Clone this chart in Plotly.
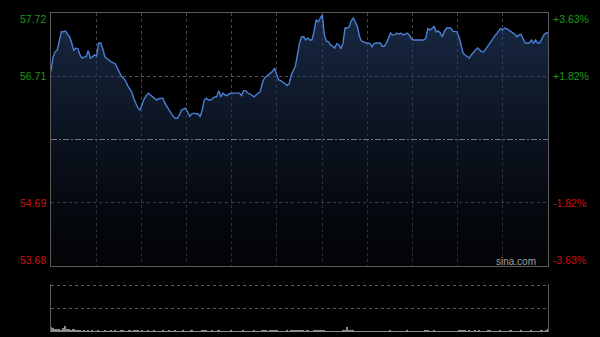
import plotly.graph_objects as go

# ---------------- data ----------------
prev_close = 55.70
price_ticks = [57.72, 56.71, 55.70, 54.69, 53.68]
price_labels = ["57.72", "56.71", "", "54.69", "53.68"]
pct_labels = ["+3.63%", "+1.82%", "", "-1.82%", "-3.63%"]
label_colors = ["#1c9a1c", "#1c9a1c", "#888888", "#cc1111", "#cc1111"]

minutes = list(range(241))

price = [
    56.79, 57.02, 57.10, 57.13, 57.27, 57.42, 57.42, 57.43, 57.38, 57.34,
    57.24, 57.12, 57.16, 57.15, 57.05, 57.00, 57.02, 57.02, 57.12, 57.00,
    57.02, 57.05, 57.03, 57.24, 57.24, 57.15, 57.02, 57.00, 56.97, 56.94,
    56.92, 56.91, 56.84, 56.76, 56.71, 56.68, 56.64, 56.56, 56.51, 56.46,
    56.35, 56.27, 56.20, 56.17, 56.28, 56.35, 56.40, 56.44, 56.41, 56.38,
    56.35, 56.33, 56.35, 56.36, 56.36, 56.28, 56.22, 56.17, 56.12, 56.07,
    56.04, 56.04, 56.09, 56.17, 56.19, 56.20, 56.14, 56.07, 56.11, 56.12,
    56.11, 56.11, 56.06, 56.17, 56.33, 56.36, 56.33, 56.33, 56.35, 56.38,
    56.38, 56.48, 56.38, 56.44, 56.41, 56.40, 56.43, 56.44, 56.44, 56.44,
    56.44, 56.44, 56.40, 56.48, 56.48, 56.44, 56.43, 56.41, 56.38, 56.41,
    56.44, 56.46, 56.59, 56.68, 56.71, 56.73, 56.76, 56.79, 56.84, 56.73,
    56.65, 56.64, 56.62, 56.59, 56.56, 56.59, 56.73, 56.79, 56.87, 57.05,
    57.24, 57.34, 57.34, 57.29, 57.32, 57.29, 57.29, 57.42, 57.61, 57.58,
    57.64, 57.69, 57.37, 57.27, 57.26, 57.21, 57.19, 57.16, 57.23, 57.21,
    57.15, 57.24, 57.48, 57.48, 57.50, 57.60, 57.64, 57.58, 57.50, 57.34,
    57.27, 57.26, 57.24, 57.24, 57.23, 57.18, 57.23, 57.24, 57.24, 57.24,
    57.19, 57.19, 57.24, 57.31, 57.40, 57.37, 57.37, 57.40, 57.38, 57.40,
    57.37, 57.38, 57.40, 57.37, 57.31, 57.29, 57.29, 57.29, 57.29, 57.29,
    57.29, 57.32, 57.47, 57.45, 57.47, 57.51, 57.42, 57.43, 57.40, 57.34,
    57.43, 57.48, 57.48, 57.48, 57.43, 57.43, 57.42, 57.34, 57.19, 57.08,
    57.05, 57.03, 57.00, 57.05, 57.10, 57.13, 57.16, 57.13, 57.10, 57.10,
    57.15, 57.21, 57.24, 57.29, 57.34, 57.38, 57.43, 57.47, 57.45, 57.48,
    57.47, 57.45, 57.42, 57.40, 57.38, 57.34, 57.37, 57.38, 57.32, 57.24,
    57.24, 57.24, 57.29, 57.24, 57.29, 57.24, 57.24, 57.31, 57.37, 57.40, 57.40,
]

volume = [
    10, 8, 7, 6, 7, 5, 8, 14, 7, 6, 5, 6, 4, 5, 4, 3, 4, 3, 4, 3,
    4, 3, 3, 4, 3, 3, 4, 3, 3, 4, 3, 4, 3, 3, 4, 4, 3, 3, 4, 3,
    4, 5, 4, 3, 4, 3, 3, 4, 3, 3, 4, 3, 3, 3, 4, 3, 3, 4, 3, 3,
    4, 3, 3, 3, 4, 3, 3, 3, 4, 3, 3, 3, 3, 4, 5, 4, 3, 3, 4, 3,
    3, 4, 3, 3, 3, 3, 3, 4, 3, 3, 3, 3, 3, 4, 3, 3, 3, 3, 4, 3,
    3, 3, 4, 5, 4, 3, 4, 4, 5, 4, 3, 3, 3, 3, 4, 3, 4, 4, 5, 5,
    5, 4, 4, 3, 4, 3, 3, 4, 5, 4, 4, 5, 4, 3, 3, 3, 3, 3, 3, 3,
    3, 4, 5, 11, 4, 4, 4, 3, 3, 3, 3, 3, 3, 3, 3, 3, 3, 3, 3, 3,
    3, 3, 3, 3, 4, 3, 3, 3, 3, 3, 3, 3, 4, 3, 3, 3, 3, 3, 3, 3,
    3, 4, 4, 3, 3, 4, 3, 3, 3, 3, 3, 3, 3, 3, 3, 3, 3, 4, 4, 5,
    4, 3, 4, 3, 3, 4, 3, 4, 3, 3, 3, 4, 5, 3, 3, 3, 3, 4, 3, 3,
    3, 3, 4, 3, 3, 3, 3, 4, 3, 3, 3, 3, 4, 3, 3, 3, 3, 4, 3, 4, 6,
]
vol_max = 100

# ---------------- figure ----------------
y_min, y_max = min(price_ticks), max(price_ticks)
n_div = 11
x_grid = [240 * i / n_div for i in range(1, n_div)]

fig = go.Figure()

fig.add_trace(go.Scatter(
    x=minutes, y=price, mode="lines",
    line=dict(color="#4a80d4", width=1.4),
    fill="tozeroy",
    fillgradient=dict(type="vertical", start=y_min, stop=y_max,
                      colorscale=[[0, "rgba(6,10,16,0.35)"],
                                  [1, "rgba(40,66,112,0.62)"]]),
    xaxis="x", yaxis="y", hoverinfo="skip", showlegend=False,
))

fig.add_trace(go.Bar(
    x=minutes, y=volume, width=0.8,
    marker=dict(color="#8c8c8c", line=dict(width=0)),
    xaxis="x2", yaxis="y3", hoverinfo="skip", showlegend=False,
))

main_bottom = 0.2069
vol_top = 0.1505

fig.update_layout(
    width=600, height=337,
    margin=dict(l=51, r=52, t=13, b=5),
    paper_bgcolor="#000000", plot_bgcolor="#000000",
    font=dict(family="Liberation Sans, Arial, sans-serif", size=10.5),
    xaxis=dict(domain=[0, 1], range=[0, 240], anchor="y",
               tickvals=x_grid, showticklabels=False, ticks="",
               showgrid=True, gridcolor="#444444", griddash="dot", gridwidth=1,
               showline=True, mirror=True, linecolor="#5a5a5a", linewidth=1,
               zeroline=False),
    yaxis=dict(domain=[main_bottom, 1], range=[y_min, y_max], anchor="x",
               tickvals=[price_ticks[1], price_ticks[3]], showticklabels=False, ticks="",
               showgrid=True, gridcolor="#5a5a5a", griddash="dot", gridwidth=1,
               showline=True, mirror=True, linecolor="#5a5a5a", linewidth=1,
               zeroline=False),
    xaxis2=dict(domain=[0, 1], range=[0, 240], anchor="y3",
                showticklabels=False, ticks="", showgrid=False,
                showline=False, zeroline=False),
    yaxis3=dict(domain=[0, vol_top], range=[0, vol_max * 1.04], anchor="x2",
                tickvals=[vol_max / 2, vol_max], showticklabels=False, ticks="",
                showgrid=True, gridcolor="#5a5a5a", griddash="dot", gridwidth=1,
                showline=True, mirror=True, linecolor="#5a5a5a", linewidth=1,
                zeroline=False),
    bargap=0,
)

# previous close reference line
fig.add_shape(type="line", xref="x domain", x0=0, x1=1, yref="y",
              y0=prev_close, y1=prev_close,
              line=dict(color="#6a7486", width=1, dash="6px,2px,2px,2px"),
              layer="above")

# axis labels
for v, lab, pct, col in zip(price_ticks, price_labels, pct_labels, label_colors):
    if not lab:
        continue
    shift = -6 if v == y_max else (6 if v == y_min else 0)
    fig.add_annotation(x=0, xref="paper", y=v, yref="y", text=lab,
                       xanchor="right", yanchor="middle", xshift=-3, yshift=shift,
                       showarrow=False, font=dict(color=col, size=10.5))
    fig.add_annotation(x=1, xref="paper", y=v, yref="y", text=pct,
                       xanchor="left", yanchor="middle", xshift=3, yshift=shift,
                       showarrow=False, font=dict(color=col, size=10.5))

fig.add_annotation(x=0.98, xref="x domain", y=0, yref="y domain", text="sina.com",
                   xanchor="right", yanchor="bottom", yshift=-3, showarrow=False,
                   font=dict(color="#a0a0a0", size=10))

fig.write_html("out.html")
